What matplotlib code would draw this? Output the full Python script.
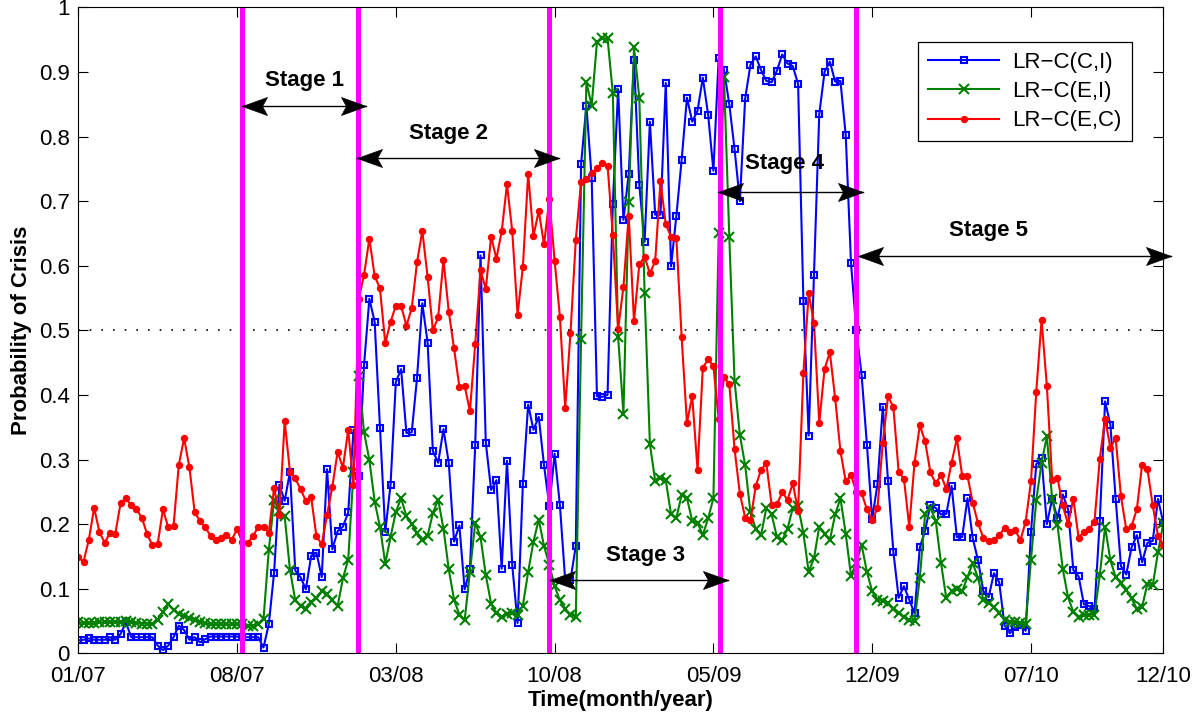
import numpy as np
import matplotlib
matplotlib.use("Agg")
import matplotlib.pyplot as plt
from matplotlib.path import Path

plt.rcParams['font.family'] = ['Liberation Sans', 'DejaVu Sans']

# weekly probability of crisis
lr_ci = [0.020, 0.021, 0.023, 0.021, 0.021, 0.021, 0.025, 0.021, 0.030, 0.048,
         0.025, 0.025, 0.025, 0.025, 0.025, 0.012, 0.005, 0.012, 0.025, 0.043,
         0.036, 0.021, 0.025, 0.017, 0.022, 0.026, 0.026, 0.026, 0.026, 0.026,
         0.026, 0.025, 0.025, 0.025, 0.025, 0.009, 0.045, 0.125, 0.261, 0.236,
         0.281, 0.128, 0.118, 0.099, 0.151, 0.156, 0.118, 0.285, 0.161, 0.189,
         0.196, 0.218, 0.346, 0.274, 0.447, 0.549, 0.513, 0.349, 0.188, 0.261,
         0.420, 0.440, 0.341, 0.342, 0.426, 0.542, 0.481, 0.313, 0.295, 0.347,
         0.295, 0.173, 0.198, 0.099, 0.130, 0.323, 0.616, 0.326, 0.253, 0.268,
         0.131, 0.298, 0.136, 0.047, 0.262, 0.385, 0.346, 0.366, 0.291, 0.228,
         0.309, 0.229, 0.113, 0.114, 0.166, 0.757, 0.848, 0.736, 0.398, 0.397,
         0.400, 0.696, 0.873, 0.671, 0.742, 0.919, 0.725, 0.637, 0.823, 0.679,
         0.679, 0.883, 0.599, 0.677, 0.764, 0.860, 0.823, 0.840, 0.891, 0.834,
         0.747, 0.922, 0.903, 0.850, 0.780, 0.700, 0.859, 0.911, 0.924, 0.903,
         0.886, 0.884, 0.902, 0.927, 0.913, 0.909, 0.881, 0.546, 0.337, 0.585,
         0.835, 0.900, 0.916, 0.885, 0.886, 0.802, 0.604, 0.500, 0.431, 0.323,
         0.208, 0.262, 0.382, 0.266, 0.157, 0.086, 0.104, 0.083, 0.062, 0.164,
         0.190, 0.230, 0.225, 0.215, 0.216, 0.259, 0.180, 0.180, 0.240, 0.178,
         0.144, 0.096, 0.087, 0.124, 0.110, 0.043, 0.031, 0.040, 0.044, 0.035,
         0.188, 0.293, 0.302, 0.200, 0.239, 0.209, 0.246, 0.223, 0.129, 0.119,
         0.076, 0.073, 0.068, 0.205, 0.390, 0.354, 0.239, 0.135, 0.122, 0.164,
         0.183, 0.141, 0.171, 0.174, 0.239, 0.202]

lr_ei = [0.048, 0.047, 0.047, 0.047, 0.048, 0.048, 0.049, 0.048, 0.049, 0.050,
         0.048, 0.047, 0.046, 0.046, 0.045, 0.052, 0.064, 0.076, 0.067, 0.061,
         0.058, 0.055, 0.052, 0.049, 0.047, 0.045, 0.045, 0.045, 0.045, 0.045,
         0.045, 0.045, 0.043, 0.043, 0.045, 0.053, 0.160, 0.237, 0.220, 0.212,
         0.129, 0.082, 0.074, 0.069, 0.079, 0.085, 0.096, 0.092, 0.082, 0.073,
         0.116, 0.145, 0.280, 0.429, 0.342, 0.299, 0.235, 0.196, 0.139, 0.180,
         0.219, 0.240, 0.212, 0.200, 0.186, 0.175, 0.182, 0.217, 0.238, 0.193,
         0.130, 0.083, 0.060, 0.051, 0.126, 0.202, 0.180, 0.121, 0.077, 0.062,
         0.057, 0.061, 0.062, 0.059, 0.074, 0.126, 0.173, 0.207, 0.166, 0.137,
         0.104, 0.082, 0.069, 0.060, 0.057, 0.487, 0.884, 0.848, 0.946, 0.952,
         0.952, 0.867, 0.490, 0.371, 0.699, 0.938, 0.860, 0.557, 0.324, 0.267,
         0.272, 0.268, 0.215, 0.210, 0.245, 0.240, 0.205, 0.202, 0.183, 0.209,
         0.240, 0.650, 0.892, 0.645, 0.421, 0.338, 0.291, 0.218, 0.193, 0.183,
         0.225, 0.215, 0.180, 0.175, 0.193, 0.225, 0.228, 0.186, 0.126, 0.147,
         0.196, 0.185, 0.175, 0.215, 0.240, 0.185, 0.120, 0.140, 0.168, 0.126,
         0.096, 0.083, 0.081, 0.078, 0.069, 0.062, 0.056, 0.051, 0.050, 0.117,
         0.216, 0.225, 0.205, 0.140, 0.085, 0.096, 0.100, 0.096, 0.118, 0.140,
         0.116, 0.083, 0.078, 0.072, 0.062, 0.052, 0.048, 0.048, 0.047, 0.046,
         0.145, 0.237, 0.295, 0.336, 0.239, 0.199, 0.131, 0.087, 0.064, 0.057,
         0.059, 0.060, 0.060, 0.121, 0.196, 0.144, 0.118, 0.109, 0.098, 0.085,
         0.069, 0.072, 0.108, 0.105, 0.157, 0.201]

lr_ec = [0.149, 0.142, 0.176, 0.225, 0.188, 0.171, 0.187, 0.185, 0.233, 0.240,
         0.229, 0.223, 0.210, 0.185, 0.167, 0.169, 0.223, 0.195, 0.197, 0.292,
         0.333, 0.288, 0.218, 0.205, 0.195, 0.182, 0.176, 0.178, 0.183, 0.176,
         0.192, 0.172, 0.171, 0.181, 0.196, 0.195, 0.187, 0.256, 0.214, 0.359,
         0.281, 0.271, 0.254, 0.236, 0.242, 0.181, 0.169, 0.214, 0.258, 0.312,
         0.287, 0.346, 0.260, 0.549, 0.586, 0.642, 0.584, 0.565, 0.480, 0.513,
         0.538, 0.538, 0.507, 0.534, 0.605, 0.654, 0.583, 0.500, 0.520, 0.609,
         0.529, 0.472, 0.413, 0.414, 0.375, 0.479, 0.593, 0.564, 0.645, 0.611,
         0.653, 0.726, 0.653, 0.524, 0.598, 0.742, 0.646, 0.685, 0.633, 0.703,
         0.608, 0.521, 0.380, 0.496, 0.640, 0.730, 0.734, 0.743, 0.751, 0.759,
         0.755, 0.648, 0.502, 0.567, 0.677, 0.514, 0.602, 0.614, 0.588, 0.607,
         0.731, 0.664, 0.645, 0.643, 0.489, 0.357, 0.398, 0.284, 0.442, 0.455,
         0.445, 0.363, 0.427, 0.417, 0.316, 0.247, 0.210, 0.206, 0.259, 0.284,
         0.294, 0.230, 0.231, 0.249, 0.238, 0.263, 0.221, 0.434, 0.557, 0.512,
         0.357, 0.440, 0.466, 0.395, 0.313, 0.266, 0.276, 0.250, 0.248, 0.223,
         0.206, 0.225, 0.326, 0.398, 0.381, 0.281, 0.270, 0.196, 0.295, 0.353,
         0.328, 0.280, 0.263, 0.276, 0.254, 0.295, 0.333, 0.275, 0.275, 0.233,
         0.201, 0.179, 0.174, 0.176, 0.183, 0.194, 0.188, 0.191, 0.175, 0.204,
         0.266, 0.405, 0.516, 0.414, 0.269, 0.272, 0.229, 0.200, 0.239, 0.179,
         0.188, 0.192, 0.204, 0.301, 0.363, 0.318, 0.333, 0.243, 0.192, 0.197,
         0.223, 0.292, 0.285, 0.229, 0.182, 0.168]

tick_pos = [0, 30, 60, 90, 120, 150, 180, 205]
tick_labels = ['01/07', '08/07', '03/08', '10/08', '05/09', '12/09', '07/10', '12/10']

# stage boundaries (week index) and the annotations
stage_lines = [30.9, 52.8, 88.9, 121.2, 147.0]
stage_names = ['Stage 1', 'Stage 2', 'Stage 3', 'Stage 4', 'Stage 5']
stage_arrows = [(30.9, 54.4, 0.848), (52.6, 90.9, 0.766), (89.1, 122.8, 0.113),
                (120.9, 148.3, 0.714), (147.4, 206.5, 0.615)]
stage_text = [(42.7, 0.886), (69.9, 0.805), (107.1, 0.151), (133.5, 0.759), (171.9, 0.655)]

x = np.arange(len(lr_ci))

fig = plt.figure(figsize=(12.04, 7.17), dpi=100)
ax = fig.add_axes([0.065, 0.0888, 0.9012, 0.901])

ax.plot(x, lr_ci, color=(0, 0, 1), lw=1.5, marker='s', ms=5, mfc='none', mew=1.5, label='LR\u2212C(C,I)')
ax.plot(x, lr_ei, color=(0, 0.5, 0), lw=1.5, marker='x', ms=7, mew=1.5, label='LR\u2212C(E,I)')
ax.plot(x, lr_ec, color=(1, 0, 0), lw=1.5, marker='o', ms=4.3, label='LR\u2212C(E,C)')

ax.axhline(0.5, color='k', ls=(0, (1, 6)), lw=1.2)

for xl in stage_lines:
    ax.axvline(xl, color=(1, 0, 1), lw=3.6)

# matlab-like concave arrow heads (tip at the origin)
head_r = Path([(0, 0), (-1, 0.36), (-0.8, 0), (-1, -0.36), (0, 0)],
              [Path.MOVETO, Path.LINETO, Path.LINETO, Path.LINETO, Path.CLOSEPOLY])
head_l = Path([(0, 0), (1, 0.36), (0.8, 0), (1, -0.36), (0, 0)],
              [Path.MOVETO, Path.LINETO, Path.LINETO, Path.LINETO, Path.CLOSEPOLY])

for (x0, x1, yy), name, (tx, ty) in zip(stage_arrows, stage_names, stage_text):
    ax.plot([x0, x1], [yy, yy], color='k', lw=1, clip_on=False)
    ax.plot(x1, yy, marker=head_r, ms=36, color='k', mew=0.5, clip_on=False)
    ax.plot(x0, yy, marker=head_l, ms=36, color='k', mew=0.5, clip_on=False)
    ax.text(tx, ty, name, ha='center', va='center', fontsize=16, fontweight='bold')

ax.set_xlim(0, 205)
ax.set_ylim(0, 1)
ax.set_xticks(tick_pos)
ax.set_xticklabels(tick_labels)
ax.set_yticks(np.arange(0, 1.01, 0.1))
ax.set_yticklabels(['0', '0.1', '0.2', '0.3', '0.4', '0.5', '0.6', '0.7', '0.8', '0.9', '1'])
ax.tick_params(direction='in', top=True, right=True, length=7.5, labelsize=16)
ax.tick_params(axis='y', pad=6)
ax.tick_params(axis='x', pad=9)
ax.set_xlabel('Time(month/year)', fontsize=16, fontweight='bold', labelpad=2)
ax.set_ylabel('Probability of Crisis', fontsize=16, fontweight='bold', labelpad=5)

leg = ax.legend(loc='upper right', bbox_to_anchor=(0.971, 0.947), fontsize=16,
                handlelength=3.2, fancybox=False, framealpha=1, edgecolor='k',
                borderpad=0.45, labelspacing=0.38, handletextpad=0.6,
                borderaxespad=0)
leg.get_frame().set_linewidth(0.9)

fig.savefig('out.png', dpi=100)
